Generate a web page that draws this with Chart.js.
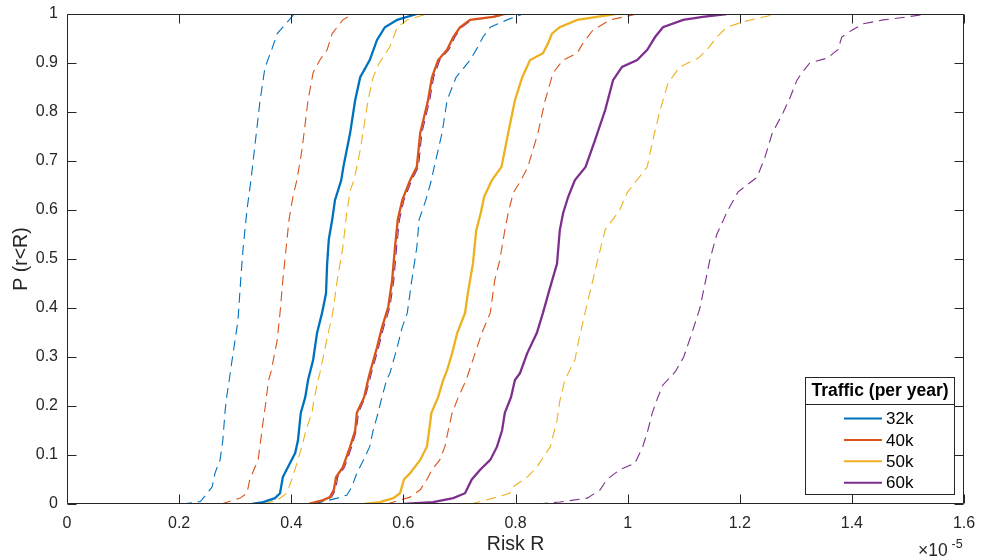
<!DOCTYPE html>
<html><head><meta charset="utf-8">
<script src="https://cdn.jsdelivr.net/npm/chart.js@4.4.0/dist/chart.umd.min.js"></script>
<style>html,body{margin:0;padding:0;background:#fff}</style>
</head><body>
<canvas id="c" width="989" height="558"></canvas>
<script>
// Risk R values are in units of 1e-5 (axis shows x10^-5)
const xTicks = [0, 0.2, 0.4, 0.6, 0.8, 1, 1.2, 1.4, 1.6];
const yTicks = [0, 0.1, 0.2, 0.3, 0.4, 0.5, 0.6, 0.7, 0.8, 0.9, 1];
const seriesNames = ['32k', '40k', '50k', '60k'];
const seriesColors = ['#0072BD', '#D95319', '#EDB120', '#7E2F8E'];

// 32k
const lo32P = [0, 0.005, 0.035, 0.063, 0.09, 0.13, 0.19, 0.22, 0.25, 0.29, 0.375, 0.46, 0.52, 0.6, 0.66, 0.72, 0.82, 0.89, 0.93, 0.96, 0.99, 1.0];
const lo32R = [0.205, 0.238, 0.259, 0.264, 0.273, 0.278, 0.282, 0.285, 0.289, 0.294, 0.305, 0.310, 0.314, 0.321, 0.328, 0.334, 0.344, 0.353, 0.366, 0.375, 0.398, 0.405];
const med32P = [0, 0.004, 0.012, 0.022, 0.055, 0.075, 0.104, 0.13, 0.186, 0.218, 0.253, 0.294, 0.349, 0.39, 0.43, 0.49, 0.54, 0.58, 0.62, 0.66, 0.688, 0.757, 0.824, 0.871, 0.906, 0.947, 0.973, 0.988, 1.0];
const med32R = [0.33, 0.350, 0.371, 0.380, 0.385, 0.394, 0.407, 0.412, 0.417, 0.425, 0.430, 0.439, 0.446, 0.455, 0.462, 0.464, 0.467, 0.473, 0.478, 0.489, 0.493, 0.505, 0.514, 0.523, 0.540, 0.553, 0.567, 0.589, 0.624];
const hi32P = [0, 0.012, 0.018, 0.035, 0.063, 0.083, 0.117, 0.15, 0.186, 0.21, 0.253, 0.267, 0.32, 0.361, 0.39, 0.457, 0.524, 0.58, 0.62, 0.661, 0.688, 0.757, 0.824, 0.871, 0.906, 0.933, 0.953, 0.973, 0.988, 1.0];
const hi32R = [0.44, 0.482, 0.499, 0.508, 0.517, 0.526, 0.540, 0.546, 0.555, 0.560, 0.570, 0.576, 0.589, 0.598, 0.607, 0.615, 0.624, 0.628, 0.640, 0.650, 0.655, 0.669, 0.678, 0.694, 0.719, 0.733, 0.742, 0.755, 0.785, 0.813];
// 40k
const lo40P = [0, 0.012, 0.022, 0.05, 0.09, 0.117, 0.17, 0.21, 0.25, 0.27, 0.335, 0.39, 0.457, 0.524, 0.58, 0.627, 0.661, 0.722, 0.824, 0.88, 0.906, 0.927, 0.96, 0.988, 1.0];
const lo40R = [0.275, 0.309, 0.321, 0.326, 0.341, 0.344, 0.350, 0.355, 0.359, 0.364, 0.375, 0.380, 0.385, 0.391, 0.396, 0.403, 0.410, 0.419, 0.430, 0.439, 0.451, 0.464, 0.473, 0.492, 0.510];
const med40P = [0, 0.008, 0.014, 0.029, 0.055, 0.075, 0.117, 0.15, 0.186, 0.218, 0.253, 0.267, 0.32, 0.361, 0.402, 0.457, 0.524, 0.58, 0.62, 0.661, 0.688, 0.757, 0.824, 0.871, 0.906, 0.927, 0.953, 0.973, 0.988, 0.994, 1.0];
const med40R = [0.43, 0.457, 0.469, 0.476, 0.480, 0.492, 0.505, 0.514, 0.517, 0.530, 0.537, 0.540, 0.553, 0.562, 0.573, 0.580, 0.585, 0.590, 0.598, 0.612, 0.624, 0.630, 0.644, 0.651, 0.662, 0.678, 0.689, 0.701, 0.719, 0.760, 0.781];
const hi40P = [0, 0.014, 0.029, 0.05, 0.07, 0.09, 0.117, 0.15, 0.186, 0.218, 0.253, 0.308, 0.349, 0.39, 0.457, 0.498, 0.559, 0.594, 0.635, 0.661, 0.688, 0.757, 0.824, 0.88, 0.906, 0.92, 0.94, 0.967, 0.988, 1.0];
const hi40R = [0.57, 0.612, 0.630, 0.642, 0.651, 0.665, 0.674, 0.680, 0.687, 0.698, 0.712, 0.728, 0.740, 0.755, 0.763, 0.772, 0.781, 0.787, 0.796, 0.810, 0.822, 0.840, 0.853, 0.867, 0.885, 0.910, 0.920, 0.938, 0.969, 1.017];
// 50k
const lo50P = [0, 0.008, 0.022, 0.05, 0.083, 0.117, 0.15, 0.186, 0.21, 0.253, 0.267, 0.349, 0.39, 0.457, 0.524, 0.594, 0.64, 0.661, 0.722, 0.824, 0.871, 0.9, 0.933, 0.973, 0.988, 1.0];
const lo50R = [0.35, 0.375, 0.392, 0.401, 0.410, 0.419, 0.426, 0.437, 0.440, 0.448, 0.451, 0.466, 0.474, 0.482, 0.492, 0.499, 0.505, 0.512, 0.523, 0.537, 0.546, 0.557, 0.576, 0.589, 0.607, 0.642];
const med50P = [0, 0.004, 0.012, 0.022, 0.05, 0.063, 0.09, 0.117, 0.15, 0.186, 0.218, 0.253, 0.273, 0.308, 0.349, 0.39, 0.43, 0.49, 0.559, 0.594, 0.627, 0.661, 0.688, 0.757, 0.824, 0.871, 0.906, 0.92, 0.94, 0.96, 0.973, 0.988, 0.994, 1.0];
const med50R = [0.53, 0.558, 0.582, 0.594, 0.601, 0.612, 0.630, 0.642, 0.646, 0.650, 0.662, 0.671, 0.678, 0.687, 0.696, 0.710, 0.715, 0.724, 0.730, 0.738, 0.744, 0.758, 0.775, 0.787, 0.799, 0.812, 0.826, 0.849, 0.858, 0.865, 0.879, 0.910, 0.945, 0.978];
const hi50P = [0, 0.012, 0.022, 0.035, 0.055, 0.075, 0.117, 0.17, 0.21, 0.253, 0.294, 0.33, 0.4, 0.5, 0.56, 0.6, 0.635, 0.688, 0.743, 0.804, 0.859, 0.892, 0.91, 0.927, 0.953, 0.973, 0.984, 0.994, 1.0];
const hi50R = [0.72, 0.760, 0.790, 0.796, 0.821, 0.838, 0.862, 0.874, 0.879, 0.888, 0.906, 0.912, 0.926, 0.947, 0.960, 0.986, 0.999, 1.035, 1.045, 1.058, 1.072, 1.093, 1.126, 1.142, 1.159, 1.177, 1.206, 1.242, 1.268];
// 60k
const lo60P = [0, 0.008, 0.014, 0.029, 0.055, 0.075, 0.117, 0.15, 0.186, 0.218, 0.253, 0.267, 0.32, 0.361, 0.402, 0.457, 0.524, 0.58, 0.62, 0.661, 0.688, 0.757, 0.824, 0.871, 0.906, 0.927, 0.953, 0.973, 0.988, 0.994, 1.0];
const lo60R = [0.44, 0.460, 0.472, 0.479, 0.483, 0.495, 0.508, 0.516, 0.520, 0.532, 0.540, 0.543, 0.556, 0.565, 0.576, 0.583, 0.588, 0.593, 0.601, 0.615, 0.627, 0.633, 0.647, 0.654, 0.665, 0.681, 0.692, 0.704, 0.722, 0.763, 0.784];
const med60P = [0, 0.004, 0.012, 0.022, 0.05, 0.07, 0.09, 0.117, 0.15, 0.186, 0.218, 0.253, 0.267, 0.308, 0.349, 0.39, 0.443, 0.49, 0.559, 0.594, 0.627, 0.661, 0.688, 0.743, 0.804, 0.865, 0.892, 0.906, 0.927, 0.953, 0.973, 0.988, 0.994, 1.0];
const med60R = [0.60, 0.653, 0.689, 0.710, 0.722, 0.737, 0.755, 0.767, 0.776, 0.781, 0.792, 0.799, 0.808, 0.821, 0.838, 0.849, 0.862, 0.874, 0.879, 0.885, 0.894, 0.906, 0.925, 0.942, 0.960, 0.974, 0.990, 1.017, 1.035, 1.049, 1.063, 1.099, 1.134, 1.177];
const hi60P = [0, 0.004, 0.012, 0.029, 0.05, 0.07, 0.083, 0.117, 0.15, 0.186, 0.218, 0.243, 0.27, 0.3, 0.35, 0.4, 0.5, 0.55, 0.6, 0.637, 0.667, 0.708, 0.757, 0.798, 0.83, 0.865, 0.88, 0.9, 0.91, 0.927, 0.953, 0.967, 0.98, 0.988, 0.994, 1.0];
const hi60R = [0.84, 0.879, 0.928, 0.951, 0.963, 0.986, 1.013, 1.027, 1.036, 1.044, 1.054, 1.063, 1.085, 1.100, 1.115, 1.129, 1.147, 1.159, 1.179, 1.197, 1.231, 1.245, 1.258, 1.277, 1.290, 1.302, 1.311, 1.325, 1.356, 1.375, 1.382, 1.400, 1.420, 1.456, 1.498, 1.534];

const FONT = "'Liberation Sans', Arial, Helvetica, sans-serif";
const AXC = '#262626';

function pts(R, P) { return R.map((r, i) => ({x: r, y: P[i]})); }
function line(R, P, si, dashed) {
  return {
    label: seriesNames[si] + (dashed ? ' bound' : ''),
    data: pts(R, P),
    borderColor: seriesColors[si],
    borderWidth: dashed ? 1.1 : 2.3,
    borderDash: dashed ? [10, 6] : [],
    pointRadius: 0,
    showLine: true,
    fill: false,
    tension: 0,
    order: dashed ? 2 : 1
  };
}

const datasets = [
  line(lo32R, lo32P, 0, true), line(hi32R, hi32P, 0, true),
  line(lo40R, lo40P, 1, true), line(hi40R, hi40P, 1, true),
  line(lo50R, lo50P, 2, true), line(hi50R, hi50P, 2, true),
  line(lo60R, lo60P, 3, true), line(hi60R, hi60P, 3, true),
  line(med60R, med60P, 3, false), line(med50R, med50P, 2, false),
  line(med32R, med32P, 0, false), line(med40R, med40P, 1, false)
];

const decor = {
  id: 'decor',
  afterDraw(chart) {
    const ctx = chart.ctx, a = chart.chartArea, xs = chart.scales.x, ys = chart.scales.y;
    const L = Math.round(a.left) + 0.5, R = Math.round(a.right) - 0.5, T = Math.round(a.top) + 0.5, B = Math.round(a.bottom) - 0.5;
    ctx.save();
    ctx.strokeStyle = AXC; ctx.lineWidth = 1; ctx.setLineDash([]);
    ctx.beginPath();
    ctx.rect(L, T, R - L, B - T);
    xTicks.forEach(v => {
      const px = Math.round(xs.getPixelForValue(v)) + 0.5;
      ctx.moveTo(px, B); ctx.lineTo(px, B - 9);
      ctx.moveTo(px, T); ctx.lineTo(px, T + 9);
    });
    yTicks.forEach(v => {
      const py = Math.round(ys.getPixelForValue(v)) + 0.5;
      ctx.moveTo(L, py); ctx.lineTo(L + 9, py);
      ctx.moveTo(R, py); ctx.lineTo(R - 9, py);
    });
    ctx.stroke();

    // axis titles
    ctx.fillStyle = AXC;
    ctx.font = '19.5px ' + FONT;
    ctx.textAlign = 'center'; ctx.textBaseline = 'middle';
    ctx.fillText('Risk R', (a.left + a.right) / 2, 545);
    ctx.save();
    ctx.translate(22, (a.top + a.bottom) / 2);
    ctx.rotate(-Math.PI / 2);
    ctx.fillText('P (r<R)', 0, 0);
    ctx.restore();
    // exponent
    ctx.textAlign = 'left'; ctx.textBaseline = 'alphabetic';
    ctx.font = '17.5px ' + FONT;
    ctx.fillText('\u00d710', 918, 556);
    ctx.font = '12.5px ' + FONT;
    ctx.fillText('-5', 951.5, 548);

    // legend
    const lr = Math.round(a.right) - 10, lb = Math.round(a.bottom) - 10;
    const lw = 149, lh = 117;
    const lx = lr - lw, ly = lb - lh;
    ctx.fillStyle = '#fff';
    ctx.fillRect(lx, ly, lw, lh);
    ctx.strokeStyle = AXC; ctx.lineWidth = 1;
    ctx.strokeRect(lx + 0.5, ly + 0.5, lw, lh);
    ctx.beginPath(); ctx.moveTo(lx, ly + 27.5); ctx.lineTo(lx + lw, ly + 27.5); ctx.stroke();
    ctx.fillStyle = '#000';
    ctx.font = 'bold 17.5px ' + FONT;
    ctx.textAlign = 'center'; ctx.textBaseline = 'middle';
    ctx.fillText('Traffic (per year)', lx + lw / 2 + 0.5, ly + 14.5);
    ctx.font = '17px ' + FONT;
    ctx.textAlign = 'left';
    seriesNames.forEach((n, i) => {
      const yy = ly + 41.5 + i * 21.4;
      ctx.strokeStyle = seriesColors[i]; ctx.lineWidth = 2;
      ctx.beginPath(); ctx.moveTo(lx + 39, yy); ctx.lineTo(lx + 77, yy); ctx.stroke();
      ctx.fillStyle = '#000';
      ctx.fillText(n, lx + 81, yy + 1);
    });
    ctx.restore();
  }
};

new Chart(document.getElementById('c'), {
  type: 'scatter',
  data: { datasets },
  options: {
    responsive: false,
    devicePixelRatio: 1,
    animation: false,
    layout: { padding: { left: 0, top: 14, right: 25, bottom: 0 } },
    plugins: { legend: { display: false }, tooltip: { enabled: false } },
    scales: {
      x: {
        type: 'linear', min: 0, max: 1.6,
        afterBuildTicks: s => { s.ticks = xTicks.map(v => ({value: v})); },
        afterFit: s => { s.height = 54; s.paddingLeft = 0; s.paddingRight = 0; },
        grid: { display: false, drawTicks: false },
        border: { display: false },
        ticks: { padding: 10, color: AXC, font: { family: FONT, size: 16 }, maxRotation: 0,
          callback: v => String(Number(v.toFixed(1))) }
      },
      y: {
        type: 'linear', min: 0, max: 1,
        afterBuildTicks: s => { s.ticks = yTicks.map(v => ({value: v})); },
        afterFit: s => { s.width = 67; s.paddingTop = 0; s.paddingBottom = 0; },
        grid: { display: false, drawTicks: false },
        border: { display: false },
        ticks: { padding: 9, color: AXC, font: { family: FONT, size: 16 },
          callback: v => String(Number(v.toFixed(1))) }
      }
    }
  },
  plugins: [decor]
});
</script>
</body></html>
